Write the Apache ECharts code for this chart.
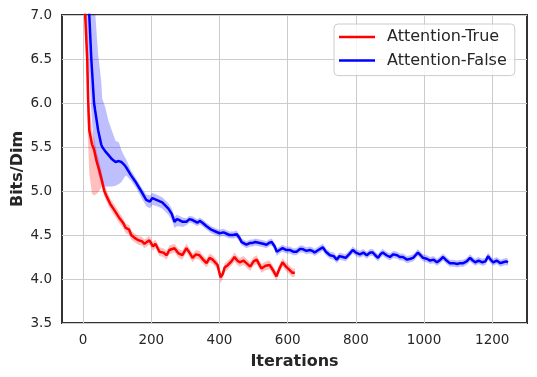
<!DOCTYPE html>
<html>
<head>
<meta charset="utf-8">
<script src="https://cdn.jsdelivr.net/npm/echarts@6/dist/echarts.min.js"></script>
<style>html,body{margin:0;padding:0;background:#fff}#c{width:537px;height:377px}</style>
</head>
<body>
<div id="c"></div>
<script>
// ---- Data ----
const xTicks = [0, 200, 400, 600, 800, 1000, 1200];

const redX = [3,6,12,15,18,26,32,40,47,55,62,70,80,92,105,117,125,135,141,150,162,172,180,194,205,212,224,235,245,253,268,280,291,303,312,321,331,341,352,362,371,380,394,403,410,415,425,435,444,452,459,470,479,490,500,509,516,523,535,547,557,567,576,585,595,606,614,621];
const redMean = [7.6,7.0,6.5,6.0,5.69,5.53,5.47,5.33,5.24,5.12,5.0,4.93,4.85,4.78,4.70,4.64,4.58,4.56,4.50,4.47,4.44,4.43,4.40,4.44,4.37,4.40,4.31,4.30,4.27,4.33,4.35,4.29,4.27,4.35,4.30,4.24,4.28,4.27,4.22,4.18,4.24,4.22,4.16,4.02,4.06,4.13,4.16,4.20,4.25,4.21,4.19,4.21,4.18,4.14,4.20,4.22,4.17,4.12,4.15,4.16,4.10,4.03,4.12,4.19,4.14,4.10,4.07,4.07];
const redLo = [7.3,6.8,5.9,5.5,5.2,4.97,4.95,4.97,5.0,5.05,4.94,4.87,4.79,4.72,4.64,4.58,4.52,4.50,4.45,4.42,4.39,4.38,4.35,4.39,4.32,4.35,4.26,4.25,4.22,4.28,4.30,4.24,4.22,4.30,4.25,4.19,4.23,4.22,4.17,4.13,4.19,4.17,4.11,3.95,4.01,4.08,4.11,4.15,4.20,4.16,4.14,4.16,4.13,4.09,4.15,4.17,4.12,4.07,4.10,4.11,4.05,3.98,4.07,4.14,4.09,4.05,4.02,4.03];
const redHi = [8.0,7.5,6.9,6.4,6.0,5.7,5.6,5.45,5.35,5.2,5.08,5.0,4.91,4.84,4.76,4.69,4.63,4.61,4.55,4.52,4.49,4.48,4.45,4.49,4.42,4.45,4.36,4.35,4.32,4.38,4.40,4.34,4.32,4.40,4.35,4.29,4.33,4.32,4.27,4.23,4.29,4.27,4.21,4.07,4.11,4.18,4.21,4.25,4.30,4.26,4.24,4.26,4.23,4.19,4.25,4.27,4.22,4.17,4.20,4.21,4.15,4.08,4.17,4.24,4.19,4.15,4.12,4.12];

const blueX = [8,18,24,32,35,44,53,56,65,74,85,95,105,112,120,126,140,156,170,185,196,203,215,232,250,260,268,275,282,292,303,312,321,335,342,350,362,376,388,400,412,429,440,450,458,465,479,490,497,505,518,528,538,545,553,562,568,576,585,595,606,616,626,636,644,655,665,672,679,690,703,712,724,735,744,752,762,770,780,791,800,812,822,832,842,850,857,865,872,879,890,900,910,921,929,938,950,960,968,975,982,990,997,1008,1018,1028,1038,1048,1056,1066,1076,1087,1097,1106,1115,1125,1135,1143,1150,1160,1171,1180,1188,1195,1203,1213,1224,1232,1241,1246];
const blueMean = [7.6,7.0,6.5,6.0,5.92,5.69,5.53,5.50,5.45,5.41,5.36,5.33,5.34,5.33,5.30,5.27,5.18,5.09,5.00,4.90,4.88,4.92,4.90,4.87,4.80,4.74,4.65,4.68,4.67,4.65,4.65,4.68,4.67,4.64,4.66,4.64,4.60,4.56,4.54,4.52,4.53,4.50,4.50,4.51,4.47,4.42,4.39,4.41,4.41,4.42,4.41,4.40,4.39,4.41,4.42,4.37,4.31,4.33,4.35,4.33,4.33,4.31,4.31,4.34,4.34,4.32,4.33,4.32,4.30,4.33,4.36,4.31,4.27,4.26,4.22,4.26,4.25,4.24,4.28,4.33,4.30,4.28,4.30,4.27,4.30,4.30,4.27,4.24,4.28,4.30,4.27,4.25,4.28,4.27,4.25,4.25,4.22,4.23,4.24,4.27,4.30,4.27,4.24,4.23,4.21,4.22,4.19,4.22,4.25,4.21,4.18,4.18,4.17,4.18,4.18,4.20,4.24,4.21,4.19,4.21,4.19,4.20,4.26,4.22,4.19,4.21,4.18,4.19,4.20,4.19];
const blueLo = [7.0,6.3,5.9,5.5,5.4,5.2,5.08,5.06,5.05,5.05,5.05,5.06,5.08,5.10,5.15,5.18,5.12,5.03,4.93,4.83,4.80,4.84,4.83,4.80,4.73,4.67,4.58,4.60,4.60,4.59,
4.61,4.64,4.63,4.60,4.62,4.60,4.56,4.52,4.50,4.48,4.49,4.46,4.46,4.47,4.43,4.38,4.35,4.37,4.37,4.38,4.37,4.36,4.35,4.37,4.38,4.33,4.26,4.29,4.31,4.29,4.29,4.27,4.27,4.30,4.30,4.28,4.29,4.28,4.26,4.29,4.32,4.27,4.23,4.22,4.18,4.22,4.21,4.20,4.24,4.29,4.26,4.24,4.26,4.23,4.26,4.26,4.23,4.20,4.24,4.26,4.23,4.21,4.24,4.23,4.21,4.21,4.18,4.19,4.20,4.23,4.26,4.23,4.20,4.19,4.17,4.18,4.15,4.18,4.21,4.17,4.14,4.14,4.13,4.14,4.14,4.16,4.20,4.17,4.15,4.17,4.15,4.16,4.22,4.18,4.15,4.17,4.14,4.15,4.16,4.15];
const blueHi = [8.0,7.5,7.3,7.1,7.05,6.55,6.25,6.05,5.95,5.8,5.68,5.57,5.55,5.47,5.40,5.36,5.24,5.14,5.05,4.96,4.95,4.98,4.96,4.93,4.86,4.80,4.71,4.73,4.72,4.70,
4.69,4.72,4.71,4.68,4.70,4.68,4.64,4.60,4.58,4.56,4.57,4.54,4.54,4.55,4.51,4.46,4.43,4.45,4.45,4.46,4.45,4.44,4.43,4.45,4.46,4.41,4.35,4.37,4.39,4.37,4.37,4.35,4.35,4.38,4.38,4.36,4.37,4.36,4.34,4.37,4.40,4.35,4.31,4.30,4.26,4.30,4.29,4.28,4.32,4.37,4.34,4.32,4.34,4.31,4.34,4.34,4.31,4.28,4.32,4.34,4.31,4.29,4.32,4.31,4.29,4.29,4.26,4.27,4.28,4.31,4.34,4.31,4.28,4.27,4.25,4.26,4.23,4.26,4.29,4.25,4.22,4.22,4.21,4.22,4.22,4.24,4.28,4.25,4.23,4.25,4.23,4.24,4.30,4.26,4.23,4.25,4.22,4.23,4.24,4.23];

// ---- Chart ----
const FONT = 'DejaVu Sans';
const TXT = '#262626';
function pairs(xs, ys) { return xs.map((x, i) => [x, ys[i]]); }
function band(key, xs, lo, hi, color) {
  const data = xs.map((x, i) => [x, lo[i], hi[i]]);
  return {
    type: 'custom', name: key + '_band', silent: true, z: 1,
    data: data,
    encode: { x: 0, y: [1, 2] },
    renderItem: function (params, api) {
      if (params.dataIndex !== 0) return null;
      const upper = data.map(d => api.coord([d[0], d[2]]));
      const lower = data.map(d => api.coord([d[0], d[1]])).reverse();
      const cs = params.coordSys;
      return {
        type: 'polygon',
        shape: { points: upper.concat(lower) },
        style: { fill: color, stroke: null },
        clipPath: { type: 'rect', shape: { x: cs.x, y: cs.y, width: cs.width, height: cs.height } }
      };
    }
  };
}

const chart = echarts.init(document.getElementById('c'), null, { renderer: 'canvas' });
chart.setOption({
  animation: false,
  grid: { left: 62, right: 10, top: 15, bottom: 54, outerBoundsMode: 'none', containLabel: false,
          show: true, borderColor: '#333333', borderWidth: 2, backgroundColor: 'transparent' },
  legend: {
    data: [
      { name: 'Attention-True', icon: 'rect', itemStyle: { color: '#ff0000' } },
      { name: 'Attention-False', icon: 'rect', itemStyle: { color: '#0000ff' } }
    ],
    orient: 'vertical', left: 334, top: 24,
    itemWidth: 36, itemHeight: 2.5, itemGap: 7.6,
    padding: [5, 8, 7, 5],
    backgroundColor: 'rgba(255,255,255,0.8)', borderColor: '#cccccc', borderWidth: 1, borderRadius: 4,
    textStyle: { fontFamily: FONT, fontSize: 16, color: TXT, padding: [0, 0, 0, 7] }
  },
  xAxis: {
    type: 'value', min: -62, max: 1302,
    name: 'Iterations', nameLocation: 'middle', nameGap: 31, nameMoveOverlap: false,
    nameTextStyle: { fontFamily: FONT, fontSize: 16, fontWeight: 'bold', color: TXT },
    axisLine: { show: false }, axisTick: { show: false, customValues: xTicks },
    axisLabel: { customValues: xTicks, fontFamily: FONT, fontSize: 13.5, color: TXT, margin: 10, formatter: v => String(v) },
    splitLine: { show: true, lineStyle: { color: '#cccccc', width: 1 } }
  },
  yAxis: {
    type: 'value', min: 3.5, max: 7.0, interval: 0.5,
    name: 'Bits/Dim', nameLocation: 'middle', nameGap: 36, nameMoveOverlap: false,
    nameTextStyle: { fontFamily: FONT, fontSize: 16, fontWeight: 'bold', color: TXT },
    axisLine: { show: false }, axisTick: { show: false },
    axisLabel: { fontFamily: FONT, fontSize: 13.5, color: TXT, margin: 10, formatter: v => v.toFixed(1) },
    splitLine: { show: true, lineStyle: { color: '#cccccc', width: 1 } }
  },
  series: [
    band('red', redX, redLo, redHi, 'rgba(255,0,0,0.25)'),
    { type: 'line', name: 'Attention-True', data: pairs(redX, redMean), symbol: 'none', z: 2,
      lineStyle: { color: '#ff0000', width: 2.5 }, itemStyle: { color: '#ff0000' } },
    band('blue', blueX, blueLo, blueHi, 'rgba(0,0,255,0.25)'),
    { type: 'line', name: 'Attention-False', data: pairs(blueX, blueMean), symbol: 'none', z: 3,
      lineStyle: { color: '#0000ff', width: 2.5 }, itemStyle: { color: '#0000ff' } }
  ]
});
</script>
</body>
</html>
